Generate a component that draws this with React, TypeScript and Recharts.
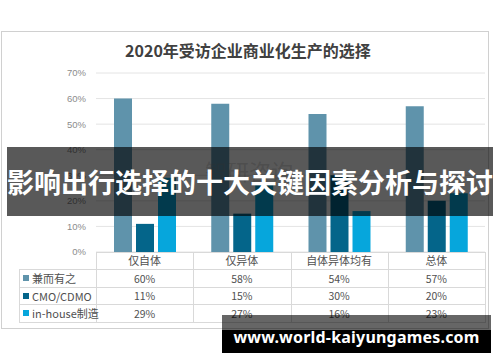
import { BarChart, Bar, XAxis, YAxis, CartesianGrid } from "recharts";

const categories = ["仅自体", "仅异体", "自体异体均有", "总体"];
const seriesNames = ["兼而有之", "CMO/CDMO", "in-house制造"];
const bothValues = [60, 58, 54, 57];
const cmoValues = [11, 15, 30, 20];
const inHouseValues = [29, 27, 16, 23];
const yTicks = [0, 10, 20, 30, 40, 50, 60, 70];
const colors = ["#5f93ab", "#04658a", "#06a6dc"];

const data = categories.map((name, i) => ({
    name,
    both: bothValues[i],
    cmo: cmoValues[i],
    inHouse: inHouseValues[i],
}));
const tableRows = [bothValues, cmoValues, inHouseValues];

// layout of the plot area, shared with the table below it
const PLOT_LEFT = 96;
const PLOT_RIGHT = 485;
const PLOT_TOP = 73;
const PLOT_BOTTOM = 252;
const COL_W = (PLOT_RIGHT - PLOT_LEFT) / categories.length;
const ROW_Y = [269, 287, 304, 322];
const LEG_LEFT = 19;
const lineColor = "#d9d9d9";
const cjk = '"Noto Sans CJK SC", "Noto Sans", sans-serif';

function HLine({ x1, x2, y }: { x1: number; x2: number; y: number }) {
    return <div style={{ position: "absolute", left: x1, top: y, width: x2 - x1 + 1, height: 1, background: lineColor }} />;
}
function VLine({ x, y1, y2 }: { x: number; y1: number; y2: number }) {
    return <div style={{ position: "absolute", left: x, top: y1, width: 1, height: y2 - y1 + 1, background: lineColor }} />;
}

export default function App() {
    const colX = categories.map((_, i) => PLOT_LEFT + i * COL_W);
    return (
        <div style={{ position: "absolute", left: 0, top: 0, width: 500, height: 362, background: "#fff", overflow: "hidden", fontFamily: cjk }}>
            <div style={{ position: "absolute", left: 1, top: 31, width: 486, height: 296, border: "1px solid #d0d0d0" }} />
            <div style={{ position: "absolute", left: 0, top: 40, width: 496, lineHeight: "20px", textAlign: "center", fontSize: 16, fontWeight: 700, color: "#404040" }}>
                2020年受访企业商业化生产的选择
            </div>

            <div style={{ position: "absolute", left: 0, top: 0 }}>
                <BarChart
                    width={500}
                    height={362}
                    data={data}
                    margin={{ top: PLOT_TOP, right: 500 - PLOT_RIGHT, bottom: 362 - PLOT_BOTTOM - 17, left: 0 }}
                    barCategoryGap={18}
                    barGap={4}
                >
                    <CartesianGrid vertical={false} stroke="#e4e4e4" />
                    <XAxis
                        dataKey="name"
                        height={17}
                        axisLine={false}
                        tickLine={false}
                        tickSize={0}
                        tickMargin={5}
                        interval={0}
                        tick={{ fill: "#505050", fontSize: 11, fontFamily: cjk }}
                    />
                    <YAxis
                        width={PLOT_LEFT}
                        domain={[0, 70]}
                        ticks={yTicks}
                        axisLine={false}
                        tickLine={false}
                        tickSize={0}
                        tickMargin={10}
                        tickFormatter={(v: number) => `${v}%`}
                        tick={{ fill: "#8c8c8c", fontSize: 9.5, fontFamily: '"Liberation Sans", sans-serif' }}
                    />
                    <Bar dataKey="both" name={seriesNames[0]} fill={colors[0]} isAnimationActive={false} />
                    <Bar dataKey="cmo" name={seriesNames[1]} fill={colors[1]} isAnimationActive={false} />
                    <Bar dataKey="inHouse" name={seriesNames[2]} fill={colors[2]} isAnimationActive={false} />
                </BarChart>
            </div>

            {/* data table under the axis */}
            <HLine x1={PLOT_LEFT} x2={PLOT_RIGHT} y={PLOT_BOTTOM} />
            {ROW_Y.map((y) => <HLine key={y} x1={LEG_LEFT} x2={PLOT_RIGHT} y={y} />)}
            <VLine x={LEG_LEFT} y1={ROW_Y[0]} y2={ROW_Y[3]} />
            {[...colX, PLOT_RIGHT].map((x) => <VLine key={x} x={Math.round(x)} y1={PLOT_BOTTOM} y2={ROW_Y[3]} />)}
            {tableRows.map((row, r) => (
                <div key={r}>
                    <div style={{ position: "absolute", left: 23, top: ROW_Y[r], height: ROW_Y[r + 1] - ROW_Y[r], display: "flex", alignItems: "center", fontSize: 11, color: "#505050", whiteSpace: "nowrap" }}>
                        <span style={{ display: "inline-block", width: 6, height: 6, background: colors[r], marginRight: 3 }} />
                        {seriesNames[r]}
                    </div>
                    {row.map((v, c) => (
                        <div key={c} style={{ position: "absolute", left: colX[c], top: ROW_Y[r], width: COL_W, height: ROW_Y[r + 1] - ROW_Y[r], display: "flex", alignItems: "center", justifyContent: "center", fontSize: 10.5, color: "#505050" }}>
                            {v}%
                        </div>
                    ))}
                </div>
            ))}

            {/* faint source watermark */}
            <div style={{ position: "absolute", left: 205, top: 154, fontSize: 22, color: "rgba(140,140,140,0.3)", whiteSpace: "nowrap" }}>智研咨询</div>

            {/* overlay banner */}
            <div style={{ position: "absolute", left: 7, top: 147, width: 486, height: 69, background: "rgba(0,0,0,0.65)", color: "#fff", fontSize: 27, fontWeight: 700, lineHeight: "69px", textAlign: "center", whiteSpace: "nowrap" }}>
                影响出行选择的十大关键因素分析与探讨
            </div>

            {/* site stamp */}
            <div style={{ position: "absolute", left: 222, top: 315, width: 269, height: 15, background: "rgba(0,0,0,0.6)" }} />
            <div style={{ position: "absolute", left: 222, top: 330, width: 269, height: 23, background: "#000" }} />
            <div style={{ position: "absolute", left: 222, top: 324, width: 269, height: 26, lineHeight: "26px", textAlign: "center", color: "#fff", fontSize: 16, fontWeight: 700, fontFamily: '"Noto Sans", sans-serif', letterSpacing: 0.2, whiteSpace: "nowrap" }}>
                www.world-kaiyungames.com
            </div>
        </div>
    );
}
